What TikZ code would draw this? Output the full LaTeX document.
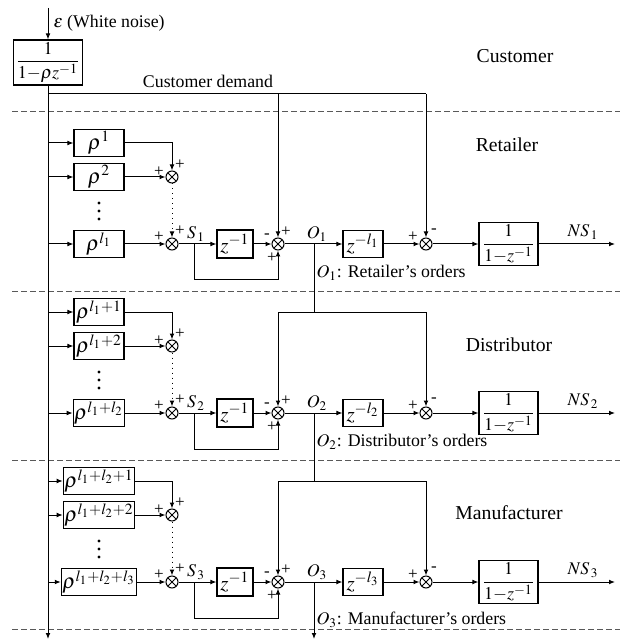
\documentclass[tikz,border=0pt]{standalone}
\usepackage{mathptmx}
\usepackage[no-math]{fontspec}
\setmainfont{Liberation Serif}
\usetikzlibrary{arrows.meta,calc}
\begin{document}
\begin{tikzpicture}[x=0.5pt,y=-0.5pt, line width=0.5pt,
  >={Latex[length=3pt,width=2.4pt]},
  blk/.style={draw, line width=0.6pt, inner sep=0.5pt, minimum height=13.5pt, font=\fontsize{10.5}{12}\selectfont},
  fblk/.style={draw, line width=0.6pt, inner sep=1pt, font=\fontsize{9}{10}\selectfont},
  sumn/.style={draw, circle, minimum size=6pt, inner sep=0pt,
    path picture={\draw (path picture bounding box.north west)--(path picture bounding box.south east)
      (path picture bounding box.north east)--(path picture bounding box.south west);}},
  sgn/.style={font=\fontsize{8.5}{9}\selectfont, inner sep=0pt},
  lbl/.style={font=\fontsize{8.9}{10}\selectfont, inner sep=0pt},
  region/.style={font=\fontsize{9.85}{11}\selectfont, inner sep=0pt},
  sepline/.style={dash pattern=on 3pt off 1.5pt, black!65}]
\useasboundingbox (0,0) rectangle (620,641);

% separators
\foreach \yy in {112,291,460,629} \draw[sepline] (12,\yy) -- (620,\yy);

% source
\node[fblk, minimum width=31pt, minimum height=20.5pt] (G0) at (48,62.5) {$\displaystyle\frac{1}{1{-}\rho z^{-1}}$};
\coordinate (eps) at (48,8);
\draw[->] (eps) -- (G0.north);
\node[lbl, anchor=west] (epsl) at (53,23) {$\varepsilon$ (White noise)};
\coordinate (bot) at (48,639);
\draw[->] (G0.south) -- (bot);

\node[lbl] (cdl) at (208,81) {Customer demand};
\node[region] (cust) at (515,56) {Customer};
\node[region] (ret) at (507,145) {Retailer};
\node[region] (dis) at (509,345) {Distributor};
\node[region] (man) at (509,513) {Manufacturer};

\foreach \rn/\cy/\pA/\pB/\pL/\bw/\kk in {R/244/{1}/{2}/{l_1}/25/1, D/413/{l_1+1}/{l_1+2}/{l_1+l_2}/25/2, M/582/{l_1+l_2+1}/{l_1+l_2+2}/{l_1+l_2+l_3}/32.5/3}{
  \node[blk, minimum width=\bw pt] (\rn P1) at (99,\cy-101) {$\rho^{\pA}$};
  \node[blk, minimum width=\bw pt] (\rn P2) at (99,\cy-67) {$\rho^{\pB}$};
  \foreach \dd in {-41,-33,-25} \fill (99,\cy+\dd) circle (0.8pt);
  \node[blk, minimum width=\bw pt] (\rn PL) at (99,\cy) {$\rho^{\pL}$};
  \node[sumn] (\rn A1) at (172,\cy-67) {};
  \node[sumn] (\rn A2) at (172,\cy) {};
  \node[blk, minimum width=18pt, minimum height=14pt] (\rn Z1) at (235,\cy) {$z^{-1}$};
  \node[sumn] (\rn A3) at (278,\cy) {};
  \node[blk, minimum width=20pt] (\rn ZL) at (363,\cy) {$z^{-l_{\kk}}$};
  \node[sumn] (\rn A4) at (426,\cy) {};
  \node[fblk, minimum width=29.5pt, minimum height=20.5pt] (\rn F) at (508.5,\cy) {$\displaystyle\frac{1}{1{-}z^{-1}}$};
  \coordinate (\rn S) at (194,\cy);
  \coordinate (\rn O) at (314,\cy);
  \coordinate (\rn fb) at (278,\cy+36);
  \coordinate (\rn out) at (615,\cy);
  % connectors
  \draw[->] (\rn P1.west -| G0.south) -- (\rn P1.west);
  \draw[->] (\rn P2.west -| G0.south) -- (\rn P2.west);
  \draw[->] (\rn PL.west -| G0.south) -- (\rn PL.west);
  \draw[->] (\rn P1.east) -| (\rn A1.north);
  \draw[->] (\rn P2.east) -- (\rn A1.west);
  \draw[->, dotted] (\rn A1.south) -- (\rn A2.north);
  \draw[->] (\rn PL.east) -- (\rn A2.west);
  \draw[->] (\rn A2.east) -- (\rn Z1.west);
  \draw[->] (\rn S) |- (\rn fb) -- (\rn A3.south);
  \draw[->] (\rn Z1.east) -- (\rn A3.west);
  \draw[->] (\rn A3.east) -- (\rn ZL.west);
  \draw[->] (\rn ZL.east) -- (\rn A4.west);
  \draw[->] (\rn A4.east) -- (\rn F.west);
  \draw[->] (\rn F.east) -- (\rn out);
  % signs and labels
  \node[sgn] (\rn s1) at (159,\cy-72) {+};
  \node[sgn] (\rn s2) at (180,\cy-79) {+};
  \node[sgn] (\rn s3) at (159,\cy-7) {+};
  \node[sgn] (\rn s4) at (180,\cy-13) {+};
  \node[lbl] (\rn Sl) at (196,\cy-10) {$S_{\,\kk}$};
  \node[sgn] (\rn s5) at (267,\cy-8) {-};
  \node[sgn] (\rn s6) at (286,\cy-12) {+};
  \node[sgn] (\rn s7) at (272,\cy+14) {+};
  \node[lbl] (\rn Ol) at (317,\cy-10) {$O_{\kk}$};
  \node[sgn] (\rn s8) at (413,\cy-7) {+};
  \node[sgn] (\rn s9) at (434,\cy-13) {-};
  \node[lbl] (\rn NSl) at (583,\cy-12) {$NS_{\,\kk}$};
}

% customer demand
\coordinate (cdL) at (48,94);
\coordinate (cdM) at (278,94);
\coordinate (cdR) at (426,94);
\draw (cdL) -- (cdR);
\draw[->] (cdM) -- (RA3.north);
\draw[->] (cdR) -- (RA4.north);

% distributor coupling
\coordinate (DcL) at (278,312);
\coordinate (DcM) at (314,312);
\coordinate (DcR) at (426,312);
\draw (RO) -- (DcM);
\draw (DcL) -- (DcR);
\draw[->] (DcL) -- (DA3.north);
\draw[->] (DcR) -- (DA4.north);

% manufacturer coupling
\coordinate (McL) at (278,481);
\coordinate (McM) at (314,481);
\coordinate (McR) at (426,481);
\draw (DO) -- (McM);
\draw (McL) -- (McR);
\draw[->] (McL) -- (MA3.north);
\draw[->] (McR) -- (MA4.north);

\coordinate (Mbot) at (314,639);
\draw[->] (MO) -- (Mbot);

% order labels
\node[lbl, anchor=west] (ro) at (316,273) {$O_1$: Retailer's orders};
\node[lbl, anchor=west] (do) at (316,442) {$O_2$: Distributor's orders};
\node[lbl, anchor=west] (mo) at (316,620) {$O_3$: Manufacturer's orders};
\end{tikzpicture}
\end{document}
